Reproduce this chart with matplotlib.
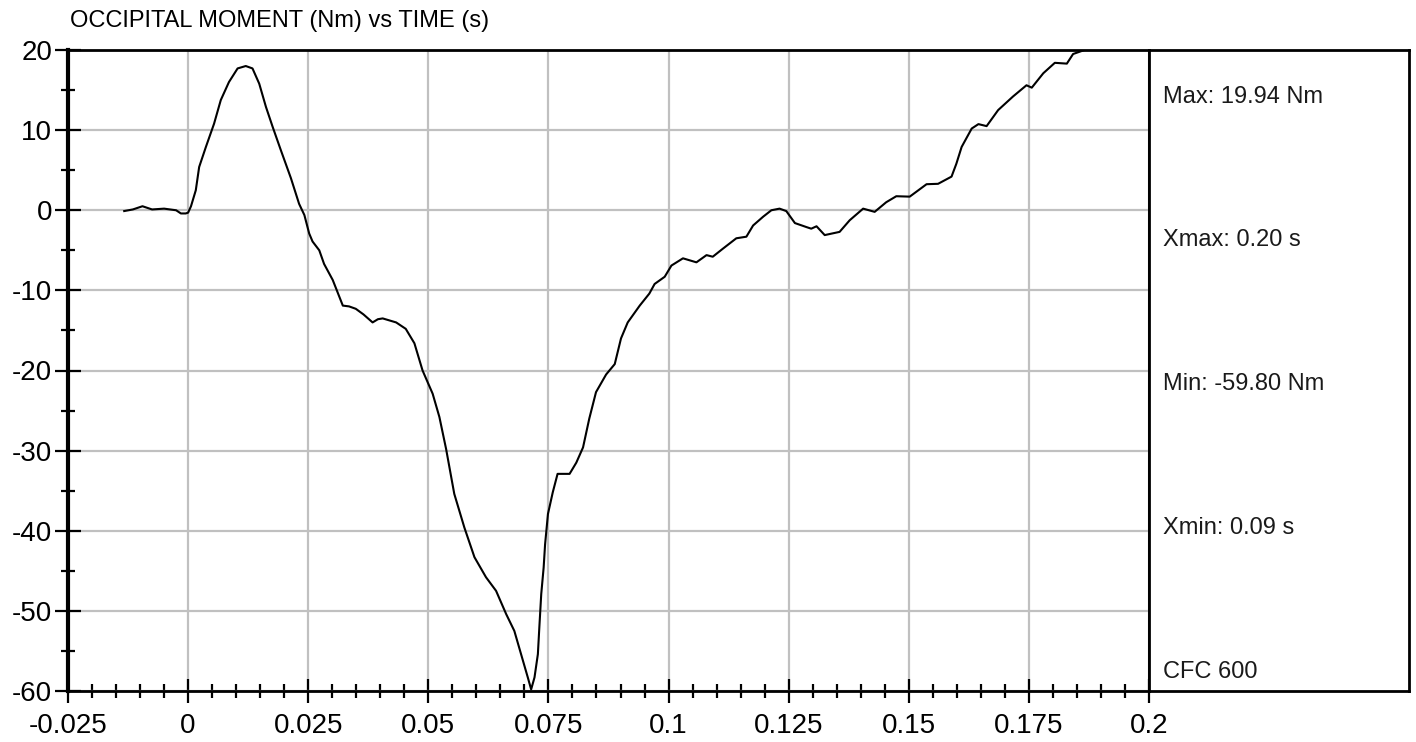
import matplotlib
matplotlib.use("Agg")
import matplotlib.pyplot as plt
from matplotlib.ticker import MultipleLocator

plt.rcParams["axes.unicode_minus"] = False

# values
time_s = [-0.0133, -0.0115, -0.0095, -0.0075, -0.005, -0.0025, -0.0015, -0.0005, 0.0000,
          0.0006, 0.0016, 0.0023, 0.0037, 0.0054, 0.0068, 0.0085, 0.0103, 0.0120,
          0.0134, 0.0148, 0.0162, 0.0176, 0.0193, 0.0214, 0.0231, 0.0242, 0.0252,
          0.0259, 0.0273, 0.0283, 0.0301, 0.0322, 0.0335, 0.0349, 0.0365, 0.0384,
          0.0395, 0.0405, 0.0433, 0.0453, 0.0471, 0.0488, 0.0509, 0.0523, 0.0537,
          0.0554, 0.0575, 0.0596, 0.0620, 0.0641, 0.0662, 0.0679, 0.0693, 0.0707,
          0.0714, 0.0721, 0.0728, 0.0731, 0.0735, 0.0740, 0.0743, 0.0749, 0.0759,
          0.0769, 0.0794, 0.0808, 0.0822, 0.0835, 0.0849, 0.0870, 0.0888, 0.0901,
          0.0915, 0.0940, 0.0960, 0.0971, 0.0992, 0.1006, 0.1030, 0.1058, 0.1079,
          0.1092, 0.1113, 0.1141, 0.1162, 0.1176, 0.1197, 0.1214, 0.1231, 0.1245,
          0.1263, 0.1287, 0.1297, 0.1308, 0.1325, 0.1356, 0.1377, 0.1405, 0.1429,
          0.1453, 0.1474, 0.1502, 0.1537, 0.1561, 0.1589, 0.1599, 0.1610, 0.1631,
          0.1645, 0.1662, 0.1686, 0.1717, 0.1745, 0.1756, 0.1780, 0.1804, 0.1829,
          0.1842, 0.1863]
moment_nm = [-0.1, 0.1, 0.5, 0.1, 0.2, 0.0, -0.4, -0.4, -0.3,
             0.5, 2.5, 5.4, 7.9, 10.8, 13.75, 16.0, 17.7, 18.0,
             17.7, 15.8, 12.9, 10.4, 7.5, 4.0, 0.8, -0.6, -2.9,
             -3.9, -5.0, -6.7, -8.7, -11.9, -12.0, -12.3, -13.0, -14.0,
             -13.6, -13.5, -14.0, -14.8, -16.6, -20.0, -22.9, -25.8, -29.8,
             -35.4, -39.6, -43.3, -45.8, -47.5, -50.4, -52.5, -55.4, -58.3,
             -59.8, -58.3, -55.4, -52.1, -47.9, -44.6, -41.7, -37.9, -35.2,
             -32.9, -32.9, -31.5, -29.6, -26.0, -22.7, -20.5, -19.2, -16.0,
             -14.0, -11.9, -10.4, -9.2, -8.3, -6.9, -6.0, -6.5, -5.6,
             -5.8, -4.8, -3.5, -3.3, -1.9, -0.8, 0.0, 0.2, -0.1,
             -1.6, -2.1, -2.3, -2.0, -3.1, -2.7, -1.25, 0.2, -0.2,
             1.0, 1.75, 1.7, 3.25, 3.3, 4.2, 5.8, 7.9, 10.2,
             10.75, 10.5, 12.5, 14.2, 15.6, 15.3, 17.1, 18.4, 18.3,
             19.5, 19.94]

x_ticks = [-0.025, 0, 0.025, 0.05, 0.075, 0.1, 0.125, 0.15, 0.175, 0.2]
x_tick_labels = ["-0.025", "0", "0.025", "0.05", "0.075", "0.1", "0.125", "0.15", "0.175", "0.2"]
y_ticks = [-60, -50, -40, -30, -20, -10, 0, 10, 20]

title = "OCCIPITAL MOMENT (Nm) vs TIME (s)"
stats = ["Max: 19.94 Nm", "Xmax: 0.20 s", "Min: -59.80 Nm", "Xmin: 0.09 s", "CFC 600"]

font = ["Liberation Sans", "DejaVu Sans"]
W, H = 1416, 742

fig = plt.figure(figsize=(W / 100, H / 100), dpi=100)
ax = fig.add_axes([68 / W, (H - 691) / H, (1149 - 68) / W, (691 - 50) / H])

ax.plot(time_s, moment_nm, color="black", linewidth=1.5, zorder=3)

ax.set_xlim(-0.025, 0.2)
ax.set_ylim(-60, 20)
ax.set_xticks(x_ticks)
ax.set_xticklabels(x_tick_labels)
ax.set_yticks(y_ticks)
ax.xaxis.set_minor_locator(MultipleLocator(0.005))
ax.yaxis.set_minor_locator(MultipleLocator(5))
ax.grid(True, which="major", color="#c0c0c0", linewidth=1.6)

for lab in ax.get_xticklabels() + ax.get_yticklabels():
    lab.set_family(font)
ax.tick_params(which="major", direction="inout", length=19, width=1.6, labelsize=20, pad=2)
ax.tick_params(which="minor", direction="inout", length=10, width=1.6)
ax.tick_params(axis="x", which="major", length=17, pad=7)
ax.tick_params(axis="x", which="minor", length=9.5)

for side in ["top", "right", "bottom"]:
    ax.spines[side].set_linewidth(2)
ax.spines["left"].set_linewidth(3)

fig.text(70 / W, 1 - 21 / H, title, fontsize=17, family=font, va="center", ha="left")

# side panel with the summary values
side = fig.add_axes([1149 / W, (H - 691) / H, (1409 - 1149) / W, (691 - 50) / H])
side.set_xticks([])
side.set_yticks([])
for s in side.spines.values():
    s.set_linewidth(2)
text_rows = [97, 240, 384, 528, 672]
for label, ypx in zip(stats, text_rows):
    side.text((1163 - 1149) / (1409 - 1149), (691 - ypx) / (691 - 50), label,
              transform=side.transAxes, fontsize=17, family=font,
              color="#1a1a1a", va="center", ha="left")

fig.savefig("out.png", dpi=100)
